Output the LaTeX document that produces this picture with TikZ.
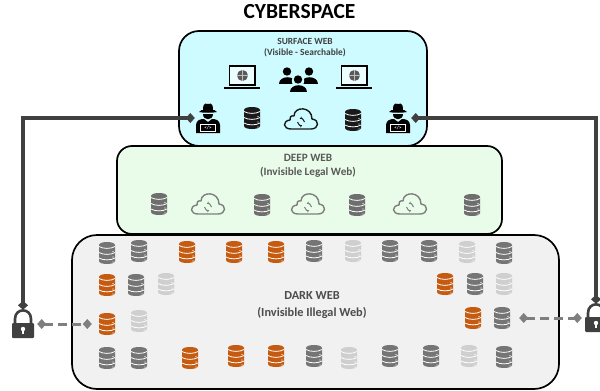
\documentclass[tikz,border=0pt]{standalone}
\usepackage{fontspec}
\setmainfont{Carlito}
\usetikzlibrary{arrows.meta}
\definecolor{cSurf}{HTML}{CDFBFF}
\definecolor{cDeep}{HTML}{E9FCE9}
\definecolor{cDark}{HTML}{F1F1F1}
\definecolor{dbk}{HTML}{1A1A1A}
\definecolor{dg}{HTML}{757575}
\definecolor{dd}{HTML}{6E6E6E}
\definecolor{dl}{HTML}{CFCFCF}
\definecolor{dor}{HTML}{C55A11}
\definecolor{conn}{HTML}{404040}
\definecolor{cDash}{HTML}{7F7F7F}
\tikzset{
  x=1pt,y=-1pt,
  tier/.style={draw=black,line width=1.7pt},
  ttl/.style={font=\bfseries,text=#1,align=center,inner sep=0pt},
  dbnode/.style={inner sep=0pt,minimum width=16pt,minimum height=22pt},
  cloudnode/.style={inner sep=0pt,minimum width=34pt,minimum height=22pt},
  lapnode/.style={inner sep=0pt,minimum width=36pt,minimum height=22pt},
  hacknode/.style={inner sep=0pt,minimum width=26pt,minimum height=30pt},
  locknode/.style={inner sep=0pt,minimum width=22pt,minimum height=28pt},
  solidlink/.style={draw=conn,line width=3.4pt,{Diamond[length=9pt,width=10pt]}-{Diamond[length=9pt,width=10pt]}},
  dashlink/.style={draw=cDash,line width=3pt,dash pattern=on 9pt off 5pt,{Diamond[length=9pt,width=10pt,sep=0pt]}-{Diamond[length=9pt,width=10pt]}},
  dbicon/.pic={
    \fill[#1] (-8,-8) .. controls (-8,-12) and (8,-12) .. (8,-8) -- (8,8) .. controls (8,12) and (-8,12) .. (-8,8) -- cycle;
    \draw[white,line width=.8pt] (-8,-6.5) .. controls (-4,-4) and (4,-4) .. (8,-6.5);
    \draw[white,line width=.8pt] (-8,-.5) .. controls (-4,2) and (4,2) .. (8,-.5);
    \draw[white,line width=.8pt] (-8,5) .. controls (-4,7.5) and (4,7.5) .. (8,5);
    \fill[white] (6,-1.5) circle (.6) (6,4) circle (.6) (6,9) circle (.6);
  },
  cloudicon/.pic={
    \draw[#1,line width=1.4pt,line join=round]
      (-10,10) -- (10,10) .. controls (18,10) and (19,1) .. (11,0)
      .. controls (11,-13) and (-7,-13) .. (-7,-3)
      .. controls (-10,-4) and (-12,-1) .. (-11,1)
      .. controls (-19,2) and (-18,10) .. (-10,10) -- cycle;
    \draw[#1,line width=1pt,-{Stealth[length=2.5pt,width=3pt]}] (-3.5,3) arc[start angle=180,end angle=70,radius=3.5];
    \draw[#1,line width=1pt,-{Stealth[length=2.5pt,width=3pt]}] (3.5,3) arc[start angle=0,end angle=-110,radius=3.5];
  },
  lapicon/.pic={
    \draw[black,line width=1.3pt,fill=white!60!cSurf] (-12.5,-12) rectangle (13,7);
    \fill[black] (-18,8.5) -- (18,8.5) -- (18,11) -- (-18,11) -- cycle;
    \fill[black!65] (0.5,-2.5) circle (5.5);
    \draw[black!25,line width=.25pt] (-5,-2.5) -- (6,-2.5) (.5,-8) -- (.5,3);
  },
  personicon/.pic={
    \fill[#1] (0,-4.5) circle (4.2);
    \fill[#1] (-8.5,8) .. controls (-8.5,-1) and (8.5,-1) .. (8.5,8) -- cycle;
  },
  peopleicon/.pic={
    \pic at (-11,-4) {personicon=black};
    \pic at (11,-4) {personicon=black};
    \fill[cSurf] (0,1) circle (6.2);
    \fill[cSurf] (-11,12) .. controls (-11,0) and (11,0) .. (11,12) -- cycle;
    \pic at (0,4) {personicon=black};
  },
  hackicon/.pic={
    \fill[black] (-9,-6) .. controls (-5,-5) and (5,-5) .. (9,-6) .. controls (7,-8) and (6,-8) .. (5,-8)
      .. controls (5,-17) and (1,-14) .. (0,-14) .. controls (-1,-14) and (-5,-17) .. (-5,-8)
      .. controls (-6,-8) and (-7,-8) .. (-9,-6) -- cycle;
    \fill[black] (-5,-4.5) .. controls (-5,3) and (5,3) .. (5,-4.5) -- cycle;
    \fill[black] (-12,15) -- (-12,7) .. controls (-12,2) and (-7,1) .. (-4,1) -- (0,4) -- (4,1) .. controls (7,1) and (12,2) .. (12,7) -- (12,15) -- cycle;
    \fill[white] (-8,6) rectangle (8,13.5);
    \fill[black] (-7,7) rectangle (7,12.5);
    \node[inner sep=0pt,text=white,font=\fontsize{5}{5}\selectfont\bfseries] at (0,9.8) {</>};
  },
  lockicon/.pic={
    \draw[conn,line width=2.6pt] (-8,2) -- (-8,-5) .. controls (-8,-16.5) and (8,-16.5) .. (8,-5) -- (8,2);
    \fill[conn,rounded corners=1pt] (-11,-1) rectangle (11,14);
    \fill[white] (0,5) circle (2.2);
    \fill[white] (-1,5) rectangle (1,10);
  }
}
\begin{document}
\begin{tikzpicture}
\useasboundingbox (0,0) rectangle (600,391);
\clip (0,0) rectangle (600,391);
\fill[white] (0,0) rectangle (600,391);

% tiers
\node[tier,fill=cDark,rounded corners=25pt,minimum width=487pt,minimum height=154pt,inner sep=0pt] (dark) at (315.5,312) {};
\node[tier,fill=cDeep,rounded corners=15pt,minimum width=385pt,minimum height=88pt,inner sep=0pt] (deep) at (309.5,190) {};
\node[tier,fill=cSurf,rounded corners=20pt,minimum width=248pt,minimum height=115pt,inner sep=0pt] (surface) at (303,88.5) {};

% text
\node[ttl=black,font=\fontsize{21.5}{21.5}\selectfont\bfseries] (title) at (299.5,12) {CYBERSPACE};
\node[ttl={black!75},font=\fontsize{9.4}{11.5}\selectfont\bfseries] (surfLabel) at (305,47.5) {SURFACE WEB\\(Visible - Searchable)};
\node[ttl={black!65},font=\fontsize{11.2}{14}\selectfont\bfseries] (deepLabel) at (308,166) {DEEP WEB\\(Invisible Legal Web)};
\node[ttl={black!70},font=\fontsize{12.3}{17}\selectfont\bfseries] (darkLabel) at (312,305) {DARK WEB\\(Invisible Illegal Web)};

% surface web icons
\node[lapnode] (lap1) at (242,78) {}; \pic at (lap1) {lapicon};
\node[lapnode] (lap2) at (354,78) {}; \pic at (lap2) {lapicon};
\node[lapnode] (people) at (298,80) {}; \pic at (people) {peopleicon};
\node[hacknode] (hackL) at (208,118) {}; \pic at (hackL) {hackicon};
\node[hacknode] (hackR) at (398,118) {}; \pic at (hackR) {hackicon};
\node[dbnode] (s1) at (252,118) {}; \pic at (s1) {dbicon=dbk};
\node[dbnode] (s2) at (353,120) {}; \pic at (s2) {dbicon=dbk};
\node[cloudnode] (scl) at (301,119) {}; \pic at (scl) {cloudicon=dbk};

% deep web icons
\foreach \x/\y [count=\i] in {159/204,262/205,357/205,472/205}{
  \node[dbnode] (dp\i) at (\x,\y) {}; \pic at (dp\i) {dbicon=dd};
}
\foreach \x/\y [count=\i] in {208/204,308/204,410/204}{
  \node[cloudnode] (dc\i) at (\x,\y) {}; \pic at (dc\i) {cloudicon=cDash};
}

% dark web icons
\foreach \x/\y/\c [count=\i] in {
  107/253/dg,139/251/dg,187/252/dor,234/252/dor,276/252/dor,314/251/dg,353/251/dl,390/251/dg,429/251/dg,467/252/dl,504/253/dg,
  107/285/dor,136/285/dg,166/284/dl,445/284/dor,475/284/dg,504/284/dl,
  139/321/dl,473/318/dor,
  107/358/dg,139/358/dg,190/358/dor,236/356/dor,276/356/dor,314/356/dg,349/358/dl,390/356/dg,431/356/dg,469/356/dl,504/357/dg}{
  \node[dbnode] (dk\i) at (\x,\y) {}; \pic at (dk\i) {dbicon=\c};
}
\node[dbnode] (dkL) at (107,324) {}; \pic at (dkL) {dbicon=dor};
\node[dbnode] (dkR) at (502,318) {}; \pic at (dkR) {dbicon=dg};

% locks
\node[locknode] (lockL) at (23,324) {}; \pic at (lockL) {lockicon};
\node[locknode] (lockR) at (596,318) {}; \pic at (lockR) {lockicon};

% connectors
\draw[solidlink] (hackL.west) -| (lockL.north);
\draw[solidlink] (hackR.east) -| (lockR.north);
\draw[dashlink,shorten <=3pt,shorten >=7pt] (lockL.east) -- (dkL.west);
\draw[dashlink,shorten <=9pt,shorten >=3pt] (dkR.east) -- (lockR.west);
\end{tikzpicture}
\end{document}
